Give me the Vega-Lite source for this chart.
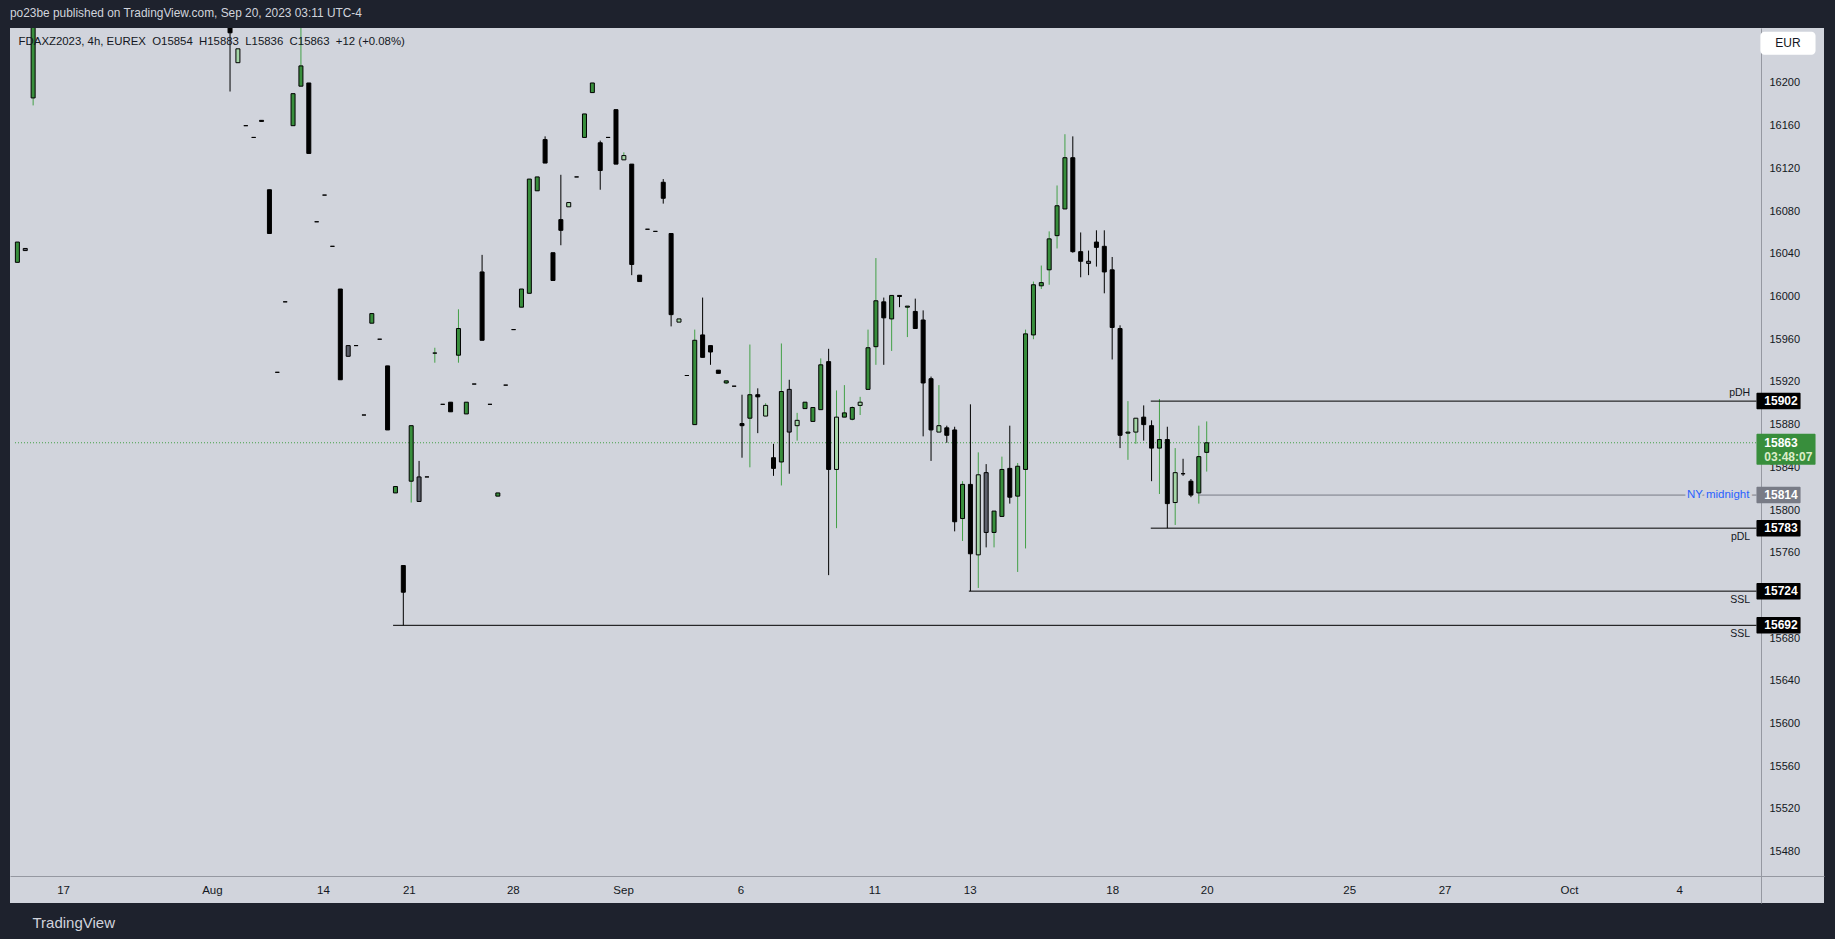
{
  "$schema": "https://vega.github.io/schema/vega-lite/v6.json",
  "width": 1814,
  "height": 875,
  "autosize": {"type": "none"},
  "padding": {"left": 10, "top": 28, "right": 11, "bottom": 36},
  "background": "#1e222d",
  "config": {"view": {"fill": "#d1d4dc", "stroke": null}, "font": "Liberation Sans"},
  "title": {
    "text": "po23be published on TradingView.com, Sep 20, 2023 03:11 UTC-4",
    "subtitle": "\u200b\u00a0\u00a0\u2009FDAXZ2023, 4h, EUREX\u00a0\u00a0O15854\u00a0\u00a0H15883\u00a0\u00a0L15836\u00a0\u00a0C15863\u00a0\u00a0+12 (+0.08%)",
    "anchor": "start",
    "frame": "group",
    "offset": -20,
    "color": "#d1d4dc",
    "fontSize": 11.9,
    "fontWeight": "normal",
    "subtitleColor": "#131722",
    "subtitleFontSize": 11.4,
    "subtitlePadding": 16
  },
  "datasets": {
    "candles": [
      {"i":0,"o":16032,"h":16051,"l":16032,"c":16051,"t":"up"},
      {"i":1,"o":16045,"h":16045,"l":16043,"c":16043,"t":"gray"},
      {"i":2,"o":16186,"h":16290,"l":16179,"c":16270,"t":"up"},
      {"i":27,"o":16270,"h":16290,"l":16192,"c":16247,"t":"down"},
      {"i":28,"o":16219,"h":16232,"l":16219,"c":16232,"t":"upl"},
      {"i":29,"o":16160,"h":16160,"l":16160,"c":16160,"t":"down"},
      {"i":30,"o":16149,"h":16149,"l":16149,"c":16149,"t":"down"},
      {"i":31,"o":16165,"h":16165,"l":16164,"c":16164,"t":"down"},
      {"i":32,"o":16100,"h":16100,"l":16059,"c":16059,"t":"down"},
      {"i":33,"o":15929,"h":15929,"l":15929,"c":15929,"t":"down"},
      {"i":34,"o":15995,"h":15995,"l":15995,"c":15995,"t":"down"},
      {"i":35,"o":16160,"h":16190,"l":16160,"c":16190,"t":"up"},
      {"i":36,"o":16197,"h":16290,"l":16197,"c":16216,"t":"up"},
      {"i":37,"o":16200,"h":16200,"l":16134,"c":16134,"t":"down"},
      {"i":38,"o":16070,"h":16070,"l":16070,"c":16070,"t":"down"},
      {"i":39,"o":16095,"h":16095,"l":16095,"c":16095,"t":"down"},
      {"i":40,"o":16047,"h":16047,"l":16047,"c":16047,"t":"down"},
      {"i":41,"o":16007,"h":16007,"l":15922,"c":15922,"t":"down"},
      {"i":42,"o":15954,"h":15954,"l":15944,"c":15944,"t":"gray"},
      {"i":43,"o":15954,"h":15954,"l":15954,"c":15954,"t":"down"},
      {"i":44,"o":15889,"h":15889,"l":15889,"c":15889,"t":"down"},
      {"i":45,"o":15975,"h":15984,"l":15975,"c":15984,"t":"up"},
      {"i":46,"o":15960,"h":15960,"l":15960,"c":15960,"t":"down"},
      {"i":47,"o":15935,"h":15935,"l":15875,"c":15875,"t":"down"},
      {"i":48,"o":15816,"h":15822,"l":15816,"c":15822,"t":"up"},
      {"i":49,"o":15748,"h":15748,"l":15692,"c":15723,"t":"down"},
      {"i":50,"o":15827,"h":15879,"l":15807,"c":15879,"t":"up"},
      {"i":51,"o":15831,"h":15846,"l":15808,"c":15808,"t":"gray"},
      {"i":52,"o":15831,"h":15831,"l":15831,"c":15831,"t":"down"},
      {"i":53,"o":15947,"h":15952,"l":15938,"c":15947,"t":"up"},
      {"i":54,"o":15899,"h":15899,"l":15899,"c":15899,"t":"down"},
      {"i":55,"o":15901,"h":15901,"l":15892,"c":15892,"t":"down"},
      {"i":56,"o":15945,"h":15988,"l":15938,"c":15970,"t":"up"},
      {"i":57,"o":15890,"h":15901,"l":15890,"c":15901,"t":"up"},
      {"i":58,"o":15918,"h":15918,"l":15918,"c":15918,"t":"down"},
      {"i":59,"o":16023,"h":16039,"l":15959,"c":15959,"t":"down"},
      {"i":60,"o":15899,"h":15899,"l":15899,"c":15899,"t":"down"},
      {"i":61,"o":15813,"h":15816,"l":15813,"c":15816,"t":"up"},
      {"i":62,"o":15917,"h":15917,"l":15917,"c":15917,"t":"down"},
      {"i":63,"o":15969,"h":15969,"l":15969,"c":15969,"t":"down"},
      {"i":64,"o":15990,"h":16007,"l":15990,"c":16007,"t":"up"},
      {"i":65,"o":16003,"h":16110,"l":16003,"c":16110,"t":"up"},
      {"i":66,"o":16099,"h":16112,"l":16099,"c":16112,"t":"up"},
      {"i":67,"o":16147,"h":16150,"l":16125,"c":16125,"t":"down"},
      {"i":68,"o":16041,"h":16041,"l":16015,"c":16015,"t":"down"},
      {"i":69,"o":16072,"h":16114,"l":16048,"c":16062,"t":"down"},
      {"i":70,"o":16084,"h":16088,"l":16084,"c":16088,"t":"upl"},
      {"i":71,"o":16112,"h":16112,"l":16112,"c":16112,"t":"down"},
      {"i":72,"o":16149,"h":16171,"l":16149,"c":16171,"t":"up"},
      {"i":73,"o":16191,"h":16200,"l":16191,"c":16200,"t":"up"},
      {"i":74,"o":16144,"h":16146,"l":16100,"c":16118,"t":"down"},
      {"i":75,"o":16149,"h":16149,"l":16149,"c":16149,"t":"down"},
      {"i":76,"o":16175,"h":16175,"l":16124,"c":16124,"t":"down"},
      {"i":77,"o":16128,"h":16135,"l":16128,"c":16132,"t":"upl"},
      {"i":78,"o":16124,"h":16124,"l":16020,"c":16030,"t":"down"},
      {"i":79,"o":16020,"h":16020,"l":16014,"c":16014,"t":"down"},
      {"i":80,"o":16063,"h":16063,"l":16063,"c":16063,"t":"down"},
      {"i":81,"o":16061,"h":16061,"l":16061,"c":16061,"t":"down"},
      {"i":82,"o":16107,"h":16110,"l":16087,"c":16092,"t":"down"},
      {"i":83,"o":16059,"h":16059,"l":15972,"c":15983,"t":"down"},
      {"i":84,"o":15976,"h":15979,"l":15976,"c":15979,"t":"upl"},
      {"i":85,"o":15926,"h":15926,"l":15926,"c":15926,"t":"down"},
      {"i":86,"o":15880,"h":15969,"l":15880,"c":15959,"t":"up"},
      {"i":87,"o":15964,"h":15999,"l":15943,"c":15943,"t":"down"},
      {"i":88,"o":15954,"h":15954,"l":15936,"c":15948,"t":"down"},
      {"i":89,"o":15931,"h":15931,"l":15928,"c":15928,"t":"down"},
      {"i":90,"o":15919,"h":15921,"l":15918,"c":15921,"t":"up"},
      {"i":91,"o":15916,"h":15916,"l":15916,"c":15916,"t":"down"},
      {"i":92,"o":15881,"h":15908,"l":15849,"c":15879,"t":"down"},
      {"i":93,"o":15886,"h":15955,"l":15840,"c":15908,"t":"up"},
      {"i":94,"o":15908,"h":15914,"l":15872,"c":15906,"t":"down"},
      {"i":95,"o":15888,"h":15900,"l":15888,"c":15898,"t":"upl"},
      {"i":96,"o":15849,"h":15862,"l":15832,"c":15839,"t":"down"},
      {"i":97,"o":15845,"h":15956,"l":15823,"c":15911,"t":"up"},
      {"i":98,"o":15913,"h":15922,"l":15834,"c":15873,"t":"gray"},
      {"i":99,"o":15879,"h":15891,"l":15865,"c":15884,"t":"upl"},
      {"i":100,"o":15895,"h":15901,"l":15895,"c":15901,"t":"up"},
      {"i":101,"o":15883,"h":15896,"l":15883,"c":15896,"t":"up"},
      {"i":102,"o":15894,"h":15942,"l":15894,"c":15936,"t":"up"},
      {"i":103,"o":15939,"h":15951,"l":15739,"c":15838,"t":"down"},
      {"i":104,"o":15838,"h":15912,"l":15783,"c":15887,"t":"upl"},
      {"i":105,"o":15887,"h":15917,"l":15887,"c":15891,"t":"up"},
      {"i":106,"o":15885,"h":15897,"l":15884,"c":15896,"t":"up"},
      {"i":107,"o":15898,"h":15906,"l":15889,"c":15901,"t":"upl"},
      {"i":108,"o":15913,"h":15969,"l":15913,"c":15952,"t":"up"},
      {"i":109,"o":15953,"h":16036,"l":15936,"c":15996,"t":"up"},
      {"i":110,"o":15995,"h":15999,"l":15936,"c":15980,"t":"down"},
      {"i":111,"o":15979,"h":16001,"l":15949,"c":16001,"t":"up"},
      {"i":112,"o":16001,"h":16001,"l":15990,"c":16000,"t":"down"},
      {"i":113,"o":15990,"h":15991,"l":15962,"c":15991,"t":"up"},
      {"i":114,"o":15986,"h":15998,"l":15970,"c":15970,"t":"down"},
      {"i":115,"o":15978,"h":15987,"l":15869,"c":15919,"t":"down"},
      {"i":116,"o":15923,"h":15925,"l":15846,"c":15875,"t":"down"},
      {"i":117,"o":15873,"h":15917,"l":15873,"c":15879,"t":"upl"},
      {"i":118,"o":15877,"h":15879,"l":15863,"c":15870,"t":"down"},
      {"i":119,"o":15875,"h":15878,"l":15780,"c":15789,"t":"down"},
      {"i":120,"o":15792,"h":15827,"l":15771,"c":15824,"t":"up"},
      {"i":121,"o":15824,"h":15899,"l":15724,"c":15759,"t":"down"},
      {"i":122,"o":15758,"h":15854,"l":15727,"c":15833,"t":"upl"},
      {"i":123,"o":15835,"h":15843,"l":15765,"c":15779,"t":"gray"},
      {"i":124,"o":15779,"h":15799,"l":15765,"c":15799,"t":"up"},
      {"i":125,"o":15794,"h":15850,"l":15794,"c":15838,"t":"up"},
      {"i":126,"o":15839,"h":15879,"l":15806,"c":15812,"t":"down"},
      {"i":127,"o":15813,"h":15844,"l":15742,"c":15841,"t":"up"},
      {"i":128,"o":15838,"h":15969,"l":15764,"c":15965,"t":"up"},
      {"i":129,"o":15964,"h":16014,"l":15960,"c":16011,"t":"up"},
      {"i":130,"o":16010,"h":16029,"l":16007,"c":16013,"t":"up"},
      {"i":131,"o":16025,"h":16061,"l":16011,"c":16054,"t":"up"},
      {"i":132,"o":16057,"h":16104,"l":16045,"c":16085,"t":"up"},
      {"i":133,"o":16082,"h":16152,"l":16082,"c":16130,"t":"up"},
      {"i":134,"o":16130,"h":16150,"l":16041,"c":16042,"t":"down"},
      {"i":135,"o":16042,"h":16060,"l":16018,"c":16033,"t":"down"},
      {"i":136,"o":16033,"h":16043,"l":16020,"c":16031,"t":"gray"},
      {"i":137,"o":16051,"h":16062,"l":16028,"c":16046,"t":"down"},
      {"i":138,"o":16047,"h":16062,"l":16003,"c":16023,"t":"down"},
      {"i":139,"o":16025,"h":16037,"l":15941,"c":15971,"t":"down"},
      {"i":140,"o":15970,"h":15973,"l":15858,"c":15870,"t":"down"},
      {"i":141,"o":15872,"h":15902,"l":15847,"c":15873,"t":"up"},
      {"i":142,"o":15873,"h":15886,"l":15862,"c":15886,"t":"upl"},
      {"i":143,"o":15887,"h":15898,"l":15865,"c":15880,"t":"down"},
      {"i":144,"o":15879,"h":15884,"l":15827,"c":15858,"t":"down"},
      {"i":145,"o":15858,"h":15904,"l":15815,"c":15866,"t":"up"},
      {"i":146,"o":15866,"h":15878,"l":15783,"c":15806,"t":"down"},
      {"i":147,"o":15807,"h":15858,"l":15786,"c":15835,"t":"upl"},
      {"i":148,"o":15834,"h":15848,"l":15832,"c":15834,"t":"down"},
      {"i":149,"o":15827,"h":15829,"l":15812,"c":15814,"t":"down"},
      {"i":150,"o":15816,"h":15879,"l":15806,"c":15850,"t":"up"},
      {"i":151,"o":15854,"h":15883,"l":15836,"c":15863,"t":"up"}
    ],
    "levels": [
      {"name":"pDH","price":15902,"start":143.9,"kind":"level"},
      {"name":"NY midnight","price":15814,"start":149.9,"kind":"ny"},
      {"name":"pDL","price":15783,"start":143.9,"kind":"level"},
      {"name":"SSL","price":15724,"start":120.8,"kind":"level"},
      {"name":"SSL","price":15692,"start":47.7,"kind":"level"}
    ],
    "last": [{"price":15863,"timer":"03:48:07"}],
    "unit": [{"u":"EUR"}]
  },
  "layer": [
    {
      "data": {"name": "last"},
      "mark": {"type": "rule", "strokeDash": [1, 2], "color": "#43a047", "strokeWidth": 1},
      "encoding": {
        "x": {"datum": -0.303, "type": "quantitative", "scale": {"domain": [-0.303, 228.74], "nice": false, "zero": false}},
        "x2": {"datum": 220.8},
        "y": {"field": "price", "type": "quantitative", "scale": {"domain": [15431.9, 16251.5], "nice": false, "zero": false}}
      }
    },
    {
      "data": {"name": "candles"},
      "mark": {"type": "rule", "strokeWidth": 1, "clip": true},
      "encoding": {
        "x": {
          "field": "i", "type": "quantitative",
          "scale": {"domain": [-0.303, 228.74], "nice": false, "zero": false},
          "axis": {
            "orient": "bottom", "offset": -27, "grid": false, "ticks": false, "tickSize": 0,
            "values": [5.8, 24.7, 38.8, 49.7, 62.9, 76.9, 91.8, 108.8, 120.9, 139, 151, 169.1, 181.2, 197, 211],
            "labelExpr": "datum.value < 10 ? '17' : datum.value < 30 ? 'Aug' : datum.value < 45 ? '14' : datum.value < 55 ? '21' : datum.value < 70 ? '28' : datum.value < 85 ? 'Sep' : datum.value < 100 ? '6' : datum.value < 115 ? '11' : datum.value < 130 ? '13' : datum.value < 145 ? '18' : datum.value < 160 ? '20' : datum.value < 175 ? '25' : datum.value < 190 ? '27' : datum.value < 205 ? 'Oct' : '4'",
            "labelFontSize": 11.5, "labelColor": "#131722", "labelBaseline": "middle", "labelPadding": 14,
            "labelFlush": false, "labelOverlap": false,
            "domainColor": "#9598a1", "domainWidth": 1,
            "title": "TradingView", "titleX": 22, "titleY": 46, "titleAlign": "left", "titleAnchor": null,
            "titleBaseline": "middle", "titleColor": "#d1d4dc", "titleFontSize": 15, "titleFontWeight": "normal"
          }
        },
        "y": {
          "field": "l", "type": "quantitative",
          "scale": {"domain": [15431.9, 16251.5], "nice": false, "zero": false},
          "axis": {
            "orient": "right", "offset": -63, "grid": false, "ticks": false, "tickSize": 0,
            "values": [15480, 15520, 15560, 15600, 15640, 15680, 15760, 15800, 15840, 15880, 15920, 15960, 16000, 16040, 16080, 16120, 16160, 16200],
            "format": "d",
            "labelFontSize": 11, "labelColor": "#131722", "labelAlign": "left", "labelPadding": 8,
            "labelBaseline": "middle", "labelFlush": false, "labelOverlap": false,
            "domainColor": "#9598a1", "domainWidth": 1, "title": null
          }
        },
        "y2": {"field": "h"},
        "stroke": {"field": "t", "type": "nominal", "legend": null,
          "scale": {"domain": ["up", "down", "upl", "gray"], "range": ["#43a047", "#000000", "#43a047", "#000000"]}}
      }
    },
    {
      "data": {"name": "candles"},
      "mark": {"type": "bar", "width": 4, "stroke": "#000000", "strokeWidth": 1, "clip": true},
      "encoding": {
        "x": {"field": "i", "type": "quantitative", "scale": {"domain": [-0.303, 228.74], "nice": false, "zero": false}},
        "y": {"field": "o", "type": "quantitative", "scale": {"domain": [15431.9, 16251.5], "nice": false, "zero": false}},
        "y2": {"field": "c"},
        "fill": {"field": "t", "type": "nominal", "legend": null,
          "scale": {"domain": ["up", "down", "upl", "gray"], "range": ["#388e3c", "#000000", "#a5d6a7", "#5d606b"]}}
      }
    },
    {
      "data": {"name": "levels"},
      "transform": [{"filter": "datum.kind == 'level'"}],
      "mark": {"type": "rule", "strokeWidth": 1, "color": "#000000"},
      "encoding": {
        "x": {"field": "start", "type": "quantitative"},
        "x2": {"datum": 220.8},
        "y": {"field": "price", "type": "quantitative"}
      }
    },
    {
      "data": {"name": "levels"},
      "transform": [{"filter": "datum.kind == 'ny'"}],
      "mark": {"type": "rule", "strokeWidth": 1, "color": "#787b86"},
      "encoding": {
        "x": {"field": "start", "type": "quantitative"},
        "x2": {"datum": 220.8},
        "y": {"field": "price", "type": "quantitative"}
      }
    },
    {
      "data": {"name": "levels"},
      "transform": [{"filter": "datum.name == 'pDH'"}],
      "mark": {"type": "text", "align": "right", "baseline": "middle", "dy": -8, "fontSize": 10.5, "color": "#131722"},
      "encoding": {
        "x": {"datum": 220.0, "type": "quantitative"},
        "y": {"field": "price", "type": "quantitative"},
        "text": {"field": "name"}
      }
    },
    {
      "data": {"name": "levels"},
      "transform": [{"filter": "datum.kind == 'level' && datum.name != 'pDH'"}],
      "mark": {"type": "text", "align": "right", "baseline": "middle", "dy": 9, "fontSize": 10.5, "color": "#131722"},
      "encoding": {
        "x": {"datum": 220.0, "type": "quantitative"},
        "y": {"field": "price", "type": "quantitative"},
        "text": {"field": "name"}
      }
    },
    {
      "data": {"name": "levels"},
      "transform": [{"filter": "datum.kind == 'ny'"}],
      "mark": {"type": "text", "align": "right", "baseline": "middle", "fontSize": 11.5, "color": "#d1d4dc", "stroke": "#d1d4dc", "strokeWidth": 5},
      "encoding": {
        "x": {"datum": 219.9, "type": "quantitative"},
        "y": {"field": "price", "type": "quantitative"},
        "text": {"field": "name"}
      }
    },
    {
      "data": {"name": "levels"},
      "transform": [{"filter": "datum.kind == 'ny'"}],
      "mark": {"type": "text", "align": "right", "baseline": "middle", "fontSize": 11.5, "color": "#2962ff"},
      "encoding": {
        "x": {"datum": 219.9, "type": "quantitative"},
        "y": {"field": "price", "type": "quantitative"},
        "text": {"field": "name"}
      }
    },
    {
      "data": {"name": "levels"},
      "transform": [{"filter": "datum.kind == 'level'"}],
      "mark": {"type": "rect", "height": 16.5, "cornerRadius": 1, "color": "#000000"},
      "encoding": {
        "x": {"datum": 220.8, "type": "quantitative"},
        "x2": {"datum": 226.4},
        "y": {"field": "price", "type": "quantitative"}
      }
    },
    {
      "data": {"name": "levels"},
      "transform": [{"filter": "datum.kind == 'ny'"}],
      "mark": {"type": "rect", "height": 16.5, "cornerRadius": 1, "color": "#787b86"},
      "encoding": {
        "x": {"datum": 220.8, "type": "quantitative"},
        "x2": {"datum": 226.4},
        "y": {"field": "price", "type": "quantitative"}
      }
    },
    {
      "data": {"name": "levels"},
      "mark": {"type": "text", "align": "left", "baseline": "middle", "fontSize": 12, "fontWeight": "bold", "color": "#ffffff"},
      "encoding": {
        "x": {"datum": 221.8, "type": "quantitative"},
        "y": {"field": "price", "type": "quantitative"},
        "text": {"field": "price", "type": "quantitative", "format": "d"}
      }
    },
    {
      "data": {"name": "last"},
      "mark": {"type": "rect", "height": 31, "yOffset": 6.5, "color": "#388e3c", "cornerRadius": 1},
      "encoding": {
        "x": {"datum": 220.8, "type": "quantitative"},
        "x2": {"datum": 228.3},
        "y": {"field": "price", "type": "quantitative"}
      }
    },
    {
      "data": {"name": "last"},
      "mark": {"type": "text", "align": "left", "baseline": "middle", "fontSize": 12, "fontWeight": "bold", "color": "#ffffff"},
      "encoding": {
        "x": {"datum": 221.8, "type": "quantitative"},
        "y": {"field": "price", "type": "quantitative"},
        "text": {"field": "price", "type": "quantitative", "format": "d"}
      }
    },
    {
      "data": {"name": "last"},
      "mark": {"type": "text", "align": "left", "baseline": "middle", "dy": 14.3, "fontSize": 12, "fontWeight": "bold", "color": "#dcedc8"},
      "encoding": {
        "x": {"datum": 221.8, "type": "quantitative"},
        "y": {"field": "price", "type": "quantitative"},
        "text": {"field": "timer"}
      }
    },
    {
      "data": {"name": "unit"},
      "mark": {"type": "rect", "color": "#ffffff", "cornerRadius": 4},
      "encoding": {
        "x": {"datum": 221.3, "type": "quantitative"},
        "x2": {"datum": 228.3},
        "y": {"datum": 16248.1, "type": "quantitative"},
        "y2": {"datum": 16226.5}
      }
    },
    {
      "data": {"name": "unit"},
      "mark": {"type": "text", "align": "center", "baseline": "middle", "fontSize": 12, "color": "#131722"},
      "encoding": {
        "x": {"datum": 224.8, "type": "quantitative"},
        "y": {"datum": 16237.5, "type": "quantitative"},
        "text": {"field": "u"}
      }
    }
  ]
}
